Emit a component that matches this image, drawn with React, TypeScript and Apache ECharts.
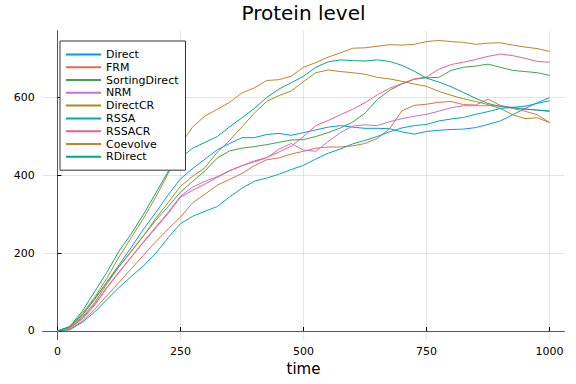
import React, { useEffect, useRef } from "react";
import * as echarts from "echarts";

const times = [0, 25, 50, 75, 100, 125, 150, 175, 200, 225, 250, 275, 300, 325, 350, 375, 400, 425, 450, 475, 500, 525, 550, 575, 600, 625, 650, 675, 700, 725, 750, 775, 800, 825, 850, 875, 900, 925, 950, 975, 1000];

const seriesNames = ["Direct", "FRM", "SortingDirect", "NRM", "DirectCR", "RSSA", "RSSACR", "Coevolve", "RDirect"];
const seriesColors = ["#009AFA", "#E36F47", "#3EA44E", "#C371D2", "#AC8E18", "#00AAAE", "#ED5E93", "#C68225", "#00A98D"];

const direct = [0, 10, 40, 80, 125, 170, 215, 262, 305, 350, 391, 418, 442, 466, 482, 497, 497, 505, 508, 503, 510, 517, 524, 528, 524, 521, 521, 520, 512, 506, 513, 516, 518, 519, 523, 531, 540, 556, 572, 587, 600];
const frm = [0, 5, 25, 55, 90, 125, 160, 195, 230, 262, 293, 330, 352, 375, 390, 405, 425, 440, 445, 455, 462, 470, 473, 473, 476, 482, 495, 520, 566, 580, 583, 588, 590, 582, 581, 596, 580, 572, 565, 556, 536];
const sortingDirect = [0, 10, 40, 82, 125, 165, 205, 245, 285, 320, 357, 385, 412, 445, 463, 470, 474, 479, 485, 491, 492, 500, 510, 522, 537, 560, 595, 619, 635, 647, 651, 652, 670, 678, 681, 686, 678, 670, 667, 664, 657];
const nrm = [0, 8, 30, 65, 110, 150, 190, 230, 268, 305, 347, 370, 385, 397, 412, 425, 435, 445, 467, 482, 465, 462, 487, 510, 527, 530, 528, 538, 546, 552, 557, 565, 574, 579, 579, 579, 579, 575, 571, 568, 564];
const directCR = [0, 8, 35, 72, 120, 165, 205, 245, 290, 330, 372, 398, 420, 460, 490, 525, 560, 590, 605, 617, 641, 664, 671, 667, 664, 660, 652, 648, 642, 635, 629, 616, 606, 597, 590, 582, 572, 556, 546, 548, 536];
const rssa = [0, 3, 22, 48, 80, 112, 140, 168, 200, 240, 276, 295, 308, 320, 345, 367, 385, 393, 403, 415, 426, 442, 457, 468, 481, 490, 500, 512, 522, 528, 531, 540, 545, 549, 557, 564, 572, 575, 578, 585, 592];
const rssaCR = [0, 8, 32, 68, 112, 152, 190, 228, 265, 302, 344, 362, 378, 395, 412, 425, 437, 446, 460, 475, 500, 528, 541, 556, 570, 587, 607, 624, 636, 648, 653, 673, 685, 691, 698, 706, 712, 708, 701, 693, 691];
const coevolve = [0, 10, 45, 85, 135, 190, 240, 290, 345, 405, 480, 525, 553, 570, 588, 612, 625, 644, 646, 655, 678, 690, 704, 715, 727, 728, 732, 736, 735, 737, 744, 747, 744, 742, 737, 740, 741, 735, 730, 726, 719];
const rDirect = [0, 12, 50, 100, 150, 205, 250, 300, 355, 410, 445, 470, 485, 500, 525, 548, 572, 600, 622, 638, 655, 678, 692, 697, 695, 694, 697, 693, 683, 668, 650, 640, 628, 613, 598, 585, 577, 574, 570, 568, 566];

const allValues = [direct, frm, sortingDirect, nrm, directCR, rssa, rssaCR, coevolve, rDirect];

const xTicks = [0, 250, 500, 750, 1000];
const yTicks = [0, 200, 400, 600];

const FONT = "DejaVu Sans";

export default function App() {
  const ref = useRef<HTMLDivElement>(null);
  useEffect(() => {
    if (!ref.current) return;
    const chart = echarts.init(ref.current, undefined, { renderer: "svg" });
    const axisColor = "#555555";
    chart.setOption({
      animation: false,
      backgroundColor: "#ffffff",
      graphic: [
        {
          type: "text",
          x: 303.5,
          y: 13,
          style: {
            text: "Protein level",
            fill: "#000000",
            font: `20px "${FONT}"`,
            textAlign: "center",
            textVerticalAlign: "middle",
          },
        },
      ],
      legend: {
        orient: "vertical",
        left: 60,
        top: 41,
        padding: [7, 7, 7, 6],
        itemGap: 0,
        itemWidth: 35,
        itemHeight: 2,
        icon: "rect",
        backgroundColor: "#ffffff",
        borderColor: "#333333",
        borderWidth: 1,
        textStyle: { fontFamily: FONT, fontSize: 11, color: "#000000", lineHeight: 12.8 },
        data: seriesNames,
      },
      grid: { left: 42.7, right: 11.7, top: 30.7, bottom: 44.3, containLabel: false },
      xAxis: {
        type: "value",
        min: -30,
        max: 1030,
        name: "time",
        nameLocation: "middle",
        nameGap: 22,
        nameTextStyle: { fontFamily: FONT, fontSize: 15, color: "#000000" },
        axisLine: { show: true, lineStyle: { color: axisColor, width: 1 } },
        axisTick: { show: true, inside: true, length: 4, customValues: xTicks, lineStyle: { color: "#000000" } },
        axisLabel: {
          customValues: xTicks,
          formatter: (v: number) => String(v),
          fontFamily: FONT,
          fontSize: 11,
          color: "#000000",
          margin: 6,
        },
        splitLine: { show: true, lineStyle: { color: "rgba(0,0,0,0.1)", width: 1 } },
      },
      yAxis: {
        type: "value",
        min: -22.4,
        max: 772,
        axisLine: { show: true, lineStyle: { color: axisColor, width: 1 } },
        axisTick: { show: true, inside: true, length: 4, customValues: yTicks, lineStyle: { color: "#000000" } },
        axisLabel: {
          customValues: yTicks,
          formatter: (v: number) => String(v),
          fontFamily: FONT,
          fontSize: 11,
          color: "#000000",
          margin: 8,
        },
        splitLine: { show: true, lineStyle: { color: "rgba(0,0,0,0.1)", width: 1 } },
      },
      series: seriesNames.map((name, i) => ({
        name,
        type: "line",
        showSymbol: false,
        symbol: "none",
        color: seriesColors[i],
        lineStyle: { width: 1, color: seriesColors[i] },
        data: times.map((t, j) => [t, allValues[i][j]]),
      })),
    });
    return () => chart.dispose();
  }, []);
  return <div ref={ref} style={{ position: "fixed", left: 0, top: 0, width: 576, height: 384 }} />;
}
